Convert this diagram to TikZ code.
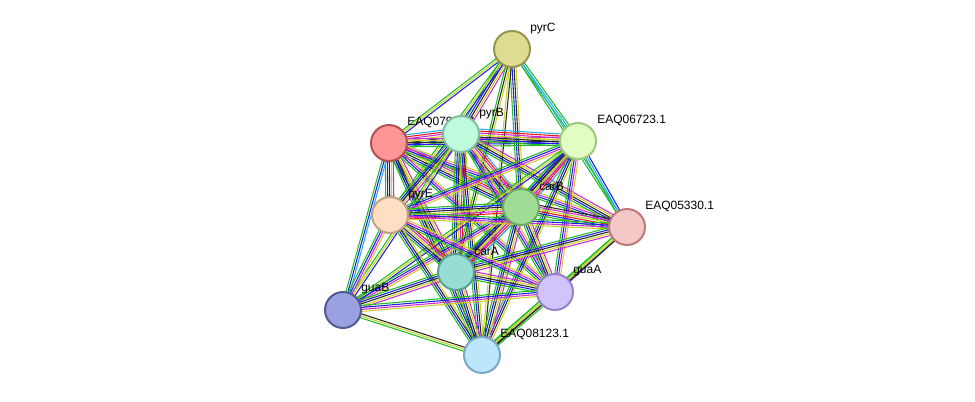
\documentclass[tikz,border=0pt]{standalone}
\usepackage{fontspec}
\setmainfont{Liberation Sans}
\usetikzlibrary{calc}
\pgfdeclarelayer{bg}\pgfdeclarelayer{lab}
\pgfsetlayers{bg,lab,main}
\definecolor{cG}{RGB}{30,190,30}
\definecolor{cB}{RGB}{30,30,230}
\definecolor{cK}{RGB}{40,40,40}
\definecolor{cY}{RGB}{200,210,40}
\definecolor{cM}{RGB}{210,40,210}
\definecolor{cR}{RGB}{240,20,20}
\definecolor{cC}{RGB}{40,170,230}
\def\lfull{cG,cB,cK,cY,cM,cR,cC}
\def\lmid{cG,cB,cK,cY,cM}
\def\lfew{cG,cY,cB}
\newcommand{\myedge}[4]{% a b n colors
  \edef\mylist{#4}%
  \foreach \c [count=\i] in \mylist {%
    \pgfmathsetmacro{\o}{(\i-1)*1.5-0.75*(#3-1)}%
    \draw[\c,line width=0.8pt] ($(#1)!\o pt!90:(#2)$) -- ($(#2)!\o pt!-90:(#1)$);
  }}
\tikzset{prot/.style={circle,draw,line width=1.5pt,minimum size=27pt,inner sep=0pt},
lbl/.style={font=\fontsize{9}{10}\selectfont,inner sep=0pt,anchor=south west}}
\begin{document}
\begin{tikzpicture}[x=0.75pt,y=-0.75pt]
\useasboundingbox (0,0) rectangle (975,401);
\node[prot,fill={rgb,255:red,222;green,220;blue,145},draw={rgb,255:red,150;green,150;blue,80}] (pyrC) at (512,49) {};
\node[prot,fill={rgb,255:red,255;green,150;blue,150},draw={rgb,255:red,180;green,80;blue,80}] (E07) at (389,143) {};
\node[prot,fill={rgb,255:red,190;green,250;blue,220},draw={rgb,255:red,130;green,190;blue,160}] (pyrB) at (461,134) {};
\node[prot,fill={rgb,255:red,225;green,255;blue,195},draw={rgb,255:red,160;green,200;blue,130}] (E06) at (578,141) {};
\node[prot,fill={rgb,255:red,160;green,220;blue,150},draw={rgb,255:red,110;green,170;blue,100}] (carB) at (521,207) {};
\node[prot,fill={rgb,255:red,245;green,200;blue,200},draw={rgb,255:red,190;green,120;blue,120}] (E05) at (627,227) {};
\node[prot,fill={rgb,255:red,255;green,222;blue,195},draw={rgb,255:red,190;green,160;blue,130}] (pyrE) at (390,215) {};
\node[prot,fill={rgb,255:red,150;green,220;blue,210},draw={rgb,255:red,90;green,160;blue,150}] (carA) at (456,272) {};
\node[prot,fill={rgb,255:red,210;green,195;blue,250},draw={rgb,255:red,150;green,130;blue,200}] (guaA) at (555,292) {};
\node[prot,fill={rgb,255:red,155;green,160;blue,225},draw={rgb,255:red,80;green,90;blue,150}] (guaB) at (343,310) {};
\node[prot,fill={rgb,255:red,190;green,230;blue,250},draw={rgb,255:red,120;green,170;blue,200}] (E08) at (482,355) {};
\begin{pgfonlayer}{lab}
\node[lbl] (lC) at (530,34) {pyrC};
\node[lbl] (l07) at (407,128) {EAQ07990.1};
\node[lbl] (lB) at (479,119) {pyrB};
\node[lbl] (l06) at (597,126) {EAQ06723.1};
\node[lbl] (lcB) at (539,191) {carB};
\node[lbl] (l05) at (645,212) {EAQ05330.1};
\node[lbl] (lE) at (408,200) {pyrE};
\node[lbl] (lcA) at (474,256) {carA};
\node[lbl] (lgA) at (573,276) {guaA};
\node[lbl] (lgB) at (361,294) {guaB};
\node[lbl] (l08) at (500,340) {EAQ08123.1};
\end{pgfonlayer}
\begin{pgfonlayer}{bg}
\myedge{pyrC}{E07}{3}{\lfew}
\myedge{pyrC}{pyrB}{5}{\lmid}
\myedge{pyrC}{E06}{3}{cG,cC,cG}
\myedge{pyrC}{carB}{4}{cG,cB,cK,cY}
\myedge{pyrC}{pyrE}{3}{\lfew}
\myedge{pyrC}{carA}{3}{cG,cK,cY}
\myedge{pyrC}{E08}{2}{cY,cK}
\myedge{pyrC}{E05}{2}{cG,cC}
\myedge{E07}{pyrB}{7}{\lfull}
\myedge{E07}{E06}{5}{\lmid}
\myedge{E07}{carB}{7}{\lfull}
\myedge{E07}{pyrE}{5}{\lmid}
\myedge{E07}{carA}{5}{\lmid}
\myedge{E07}{guaA}{4}{cG,cB,cM,cY}
\myedge{E07}{guaB}{3}{cG,cB,cC}
\myedge{E07}{E08}{4}{cG,cB,cK,cY}
\myedge{E07}{E05}{4}{cG,cB,cM,cY}
\myedge{pyrB}{E06}{7}{\lfull}
\myedge{pyrB}{carB}{7}{\lfull}
\myedge{pyrB}{pyrE}{5}{\lmid}
\myedge{pyrB}{carA}{6}{cG,cB,cK,cY,cM,cR}
\myedge{pyrB}{guaA}{4}{cG,cB,cM,cY}
\myedge{pyrB}{guaB}{3}{\lfew}
\myedge{pyrB}{E08}{4}{cG,cB,cK,cY}
\myedge{pyrB}{E05}{5}{\lmid}
\myedge{E06}{carB}{7}{\lfull}
\myedge{E06}{pyrE}{4}{cG,cB,cM,cY}
\myedge{E06}{carA}{5}{\lmid}
\myedge{E06}{guaA}{4}{cG,cB,cM,cY}
\myedge{E06}{guaB}{3}{\lfew}
\myedge{E06}{E08}{4}{cG,cB,cK,cY}
\myedge{E06}{E05}{3}{cG,cC,cB}
\myedge{carB}{E05}{6}{cG,cB,cR,cY,cM,cK}
\myedge{carB}{pyrE}{6}{cG,cB,cK,cY,cM,cR}
\myedge{carB}{carA}{7}{\lfull}
\myedge{carB}{guaA}{5}{\lmid}
\myedge{carB}{guaB}{4}{cG,cB,cM,cY}
\myedge{carB}{E08}{5}{\lmid}
\myedge{E05}{pyrE}{4}{cG,cB,cM,cY}
\myedge{E05}{carA}{5}{\lmid}
\myedge{E05}{guaA}{3}{\lfew}
\myedge{E05}{E08}{3}{cG,cY,cK}
\myedge{pyrE}{carA}{6}{cG,cB,cK,cY,cM,cR}
\myedge{pyrE}{guaA}{4}{cG,cB,cM,cY}
\myedge{pyrE}{guaB}{4}{cG,cB,cM,cY}
\myedge{pyrE}{E08}{4}{cG,cB,cK,cY}
\myedge{carA}{guaA}{5}{\lmid}
\myedge{carA}{guaB}{5}{\lmid}
\myedge{carA}{E08}{5}{\lmid}
\myedge{guaA}{guaB}{4}{cG,cB,cM,cY}
\myedge{guaA}{E08}{4}{cG,cY,cK,cG}
\myedge{guaB}{E08}{3}{cG,cY,cK}
\end{pgfonlayer}
\end{tikzpicture}
\end{document}
